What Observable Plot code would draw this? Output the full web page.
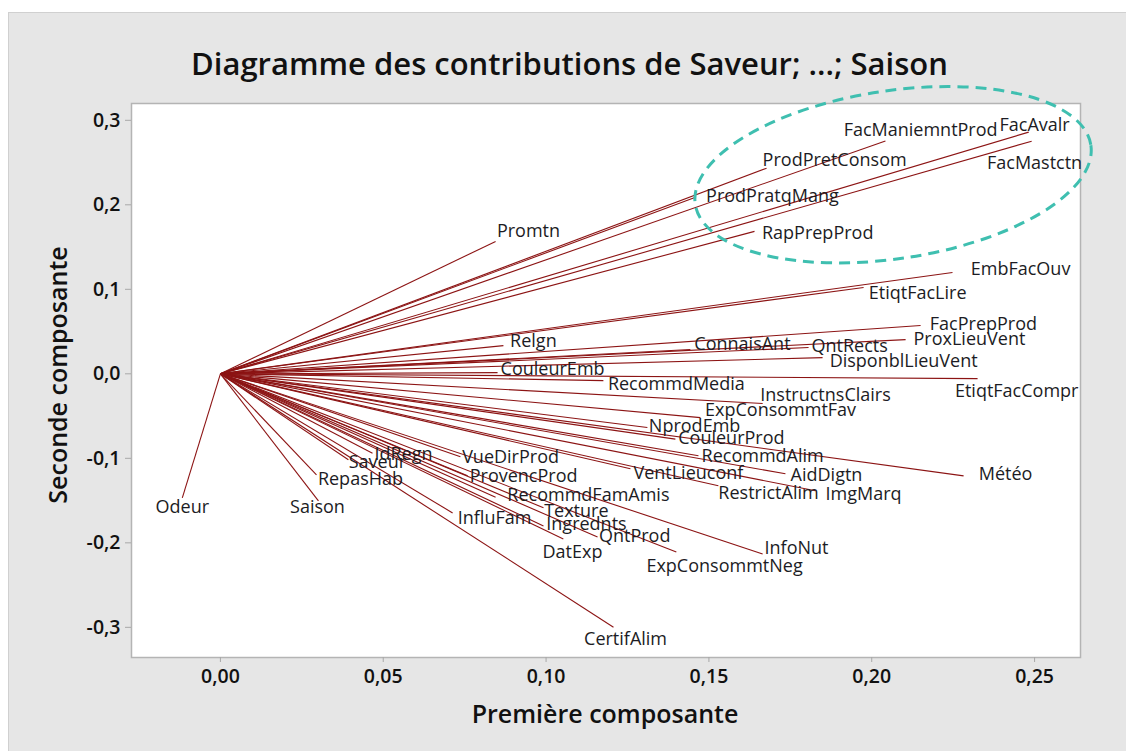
<!DOCTYPE html>
<html><head><meta charset="utf-8">
<script src="https://cdn.jsdelivr.net/npm/d3@7"></script>
<script src="https://cdn.jsdelivr.net/npm/@observablehq/plot@0.6"></script>
<style>
body{margin:0;background:#fff;font-family:"Open Sans",sans-serif;width:1126px;height:751px;overflow:hidden;position:relative;}
#bg{position:absolute;left:8px;top:12px;width:1118px;height:739px;background:#e6e6e6;border-left:1px solid #d0d0d0;border-top:1px solid #d0d0d0;}
#title{position:absolute;left:0;width:1139px;top:46px;line-height:34px;text-align:center;font-size:31px;font-weight:600;color:#111;}
#xlab{position:absolute;left:0;width:1210px;top:699px;line-height:28px;text-align:center;font-size:25px;font-weight:600;color:#111;}
#ylab{position:absolute;left:57px;top:375px;transform:translate(-50%,-50%) rotate(-90deg);white-space:nowrap;font-size:25px;font-weight:600;color:#111;line-height:28px;}
#chart{position:absolute;left:0;top:80px;}
</style></head>
<body>
<div id="bg"></div>
<div id="title">Diagramme des contributions de Saveur; ...; Saison</div>
<div id="chart"></div>
<div id="xlab">Première composante</div>
<div id="ylab">Seconde composante</div>
<script>
const names = ["FacManiemntProd","FacAvalr","FacMastctn","ProdPretConsom","ProdPratqMang","RapPrepProd","Promtn","EmbFacOuv","EtiqtFacLire","FacPrepProd","ProxLieuVent","ConnaisAnt","QntRects","DisponblLieuVent","Relgn","CouleurEmb","RecommdMedia","EtiqtFacCompr","InstructnsClairs","ExpConsommtFav","NprodEmb","CouleurProd","RecommdAlim","Météo","AidDigtn","VentLieuconf","RestrictAlim","ImgMarq","IdRegn","Saveur","RepasHab","VueDirProd","ProvencProd","RecommdFamAmis","Texture","Ingrednts","QntProd","InfluFam","DatExp","InfoNut","ExpConsommtNeg","CertifAlim","Odeur","Saison"];
// First component loadings
const pc1 = [0.2042,0.2482,0.2491,0.1677,0.1459,0.1640,0.0845,0.2248,0.1975,0.2150,0.2104,0.1443,0.1806,0.1849,0.0869,0.0851,0.1176,0.2325,0.1665,0.1474,0.1311,0.1397,0.1468,0.2282,0.1735,0.1259,0.1529,0.1827,0.0467,0.0393,0.0295,0.0737,0.0759,0.0845,0.0992,0.0992,0.1158,0.0713,0.1053,0.1665,0.1400,0.1207,-0.0117,0.0301];
// Second component loadings
const pc2 = [0.2755,0.2860,0.2753,0.2433,0.2089,0.1686,0.1567,0.1200,0.1022,0.0571,0.0405,0.0287,0.0311,0.0192,0.0334,0.0014,-0.0080,-0.0057,-0.0352,-0.0518,-0.0636,-0.0773,-0.0969,-0.1208,-0.1183,-0.1124,-0.1325,-0.1384,-0.0939,-0.1017,-0.1195,-0.0981,-0.1207,-0.1460,-0.1586,-0.1800,-0.1930,-0.1646,-0.1954,-0.2132,-0.2109,-0.2998,-0.1468,-0.1503];
// Where each label is printed (centre, in the same units)
const labelX = [0.2150,0.2500,0.2500,0.1886,0.1695,0.1834,0.0946,0.2457,0.2141,0.2343,0.2300,0.1603,0.1932,0.2098,0.0961,0.1020,0.1400,0.2445,0.1858,0.1720,0.1456,0.1569,0.1665,0.2411,0.1861,0.1437,0.1683,0.1975,0.0562,0.0482,0.0430,0.0891,0.0931,0.1130,0.1093,0.1124,0.1272,0.0842,0.1081,0.1769,0.1548,0.1244,-0.0117,0.0298];
const labelY = [0.2883,0.2945,0.2492,0.2528,0.2101,0.1662,0.1686,0.1235,0.0951,0.0583,0.0405,0.0346,0.0323,0.0145,0.0382,0.0050,-0.0128,-0.0211,-0.0258,-0.0435,-0.0619,-0.0761,-0.0981,-0.1183,-0.1195,-0.1171,-0.1408,-0.1420,-0.0946,-0.1041,-0.1242,-0.0986,-0.1206,-0.1432,-0.1622,-0.1776,-0.1918,-0.1705,-0.2110,-0.2061,-0.2275,-0.3140,-0.1575,-0.1575];
const xTicks = [0, 0.05, 0.10, 0.15, 0.20, 0.25];
const yTicks = [-0.3, -0.2, -0.1, 0, 0.1, 0.2, 0.3];

const vars = names.map((n, i) => ({name: n, x: pc1[i], y: pc2[i], lx: labelX[i], ly: labelY[i]}));

const plot = Plot.plot({
  width: 1126, height: 671,
  marginLeft: 131, marginRight: 46, marginTop: 23, marginBottom: 94,
  style: {background: "transparent", fontFamily: "'Open Sans', sans-serif", overflow: "visible"},
  x: {domain: [-0.0273, 0.2641]},
  y: {domain: [-0.3357, 0.3199]},
  marks: [
    Plot.frame({fill: "white", stroke: "#b4b4b4", strokeWidth: 1.5}),
    Plot.axisX(xTicks, {tickFormat: d => d.toFixed(2).replace(".", ","), tickSize: 5, tickPadding: 7, stroke: "#a8a8a8", color: "#111", fontSize: 19.5, fontWeight: 600, label: null}),
    Plot.axisY(yTicks, {tickFormat: d => d.toFixed(1).replace(".", ","), tickSize: 6, tickPadding: 5, stroke: "#a8a8a8", color: "#111", fontSize: 19.5, fontWeight: 600, label: null}),
    Plot.link(vars, {x1: () => 0, y1: () => 0, x2: "x", y2: "y", stroke: "#8c1414", strokeWidth: 1.1}),
    Plot.text(vars, {x: "lx", y: "ly", text: "name", textAnchor: "middle", lineAnchor: "middle", fontSize: 18, fill: "#1c1c24"})
  ]
});
document.getElementById("chart").appendChild(plot);

// dashed highlight ellipse around the upper-right group
const sx = plot.scale("x"), sy = plot.scale("y");
const cx = sx.apply(0.2067), cy = sy.apply(0.235);
d3.select(plot).append("ellipse")
  .attr("cx", cx).attr("cy", cy).attr("rx", 200).attr("ry", 84)
  .attr("transform", `rotate(-8.5 ${cx} ${cy})`)
  .attr("fill", "none").attr("stroke", "#3fbfb0").attr("stroke-width", 3)
  .attr("stroke-dasharray", "11 7");
</script>
</body></html>
